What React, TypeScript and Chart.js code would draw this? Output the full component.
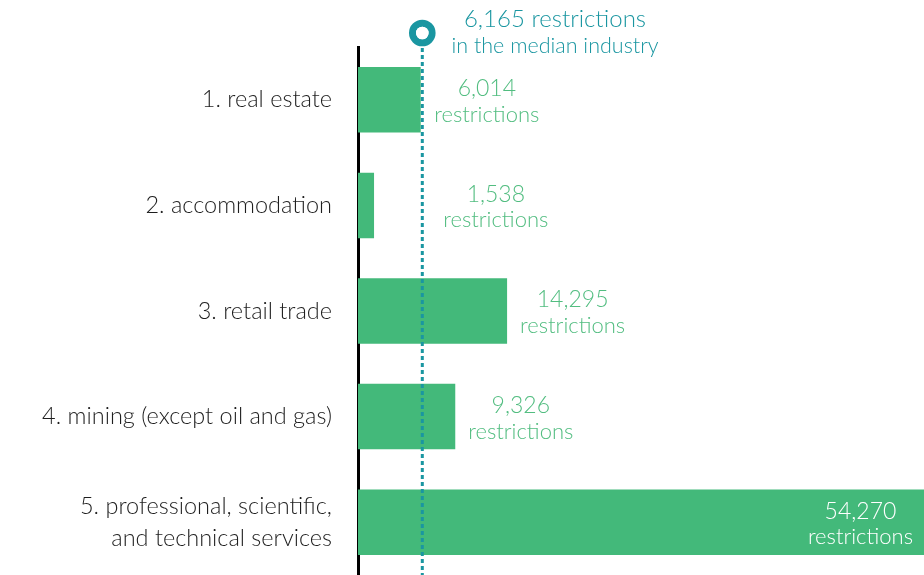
import React, { useEffect, useRef } from "react";
import { Chart, registerables } from "chart.js";

Chart.register(...registerables);

const categories: (string | string[])[] = [
  "1. real estate",
  "2. accommodation",
  "3. retail trade",
  "4. mining (except oil and gas)",
  ["5. professional, scientific,", "and technical services"],
];
const restrictions: number[] = [6014, 1538, 14295, 9326, 54270];
const valueLabels: string[] = ["6,014", "1,538", "14,295", "9,326", "54,270"];
const unitLabel = "restrictions";
const medianValue = 6165;
const medianLines: string[] = ["6,165 restrictions", "in the median industry"];

const GREEN = "#43b97a";
const GREEN_TEXT = "#52bd80";
const TEAL = "#1a96a1";
const FONT = "Lato, 'Open Sans', sans-serif";

export default function App() {
  const ref = useRef<HTMLCanvasElement | null>(null);

  useEffect(() => {
    document.body.style.margin = "0";
    const canvas = ref.current;
    if (!canvas) return;

    const overlay = {
      id: "overlay",
      afterDatasetsDraw(chart: any) {
        const ctx = chart.ctx;
        const xs = chart.scales.x;
        const area = chart.chartArea;
        const mx = xs.getPixelForValue(medianValue);
        const meta = chart.getDatasetMeta(0);

        // value labels
        meta.data.forEach((bar: any, i: number) => {
          const end = bar.x;
          const cy = bar.y;
          ctx.save();
          ctx.textBaseline = "middle";
          ctx.textAlign = "center";
          ctx.font = `300 22px ${FONT}`;
          const w = ctx.measureText(unitLabel).width;
          let center: number;
          if (i === restrictions.length - 1) {
            ctx.fillStyle = "#ffffff";
            center = end - 11 - w / 2;
          } else {
            ctx.fillStyle = GREEN_TEXT;
            let left = Math.max(end + 13, mx + 12);
            if (end < mx - 20) left = mx + 21;
            center = left + w / 2;
          }
          ctx.font = `300 23px ${FONT}`;
          ctx.fillText(valueLabels[i], center, cy - 11);
          ctx.font = `300 22px ${FONT}`;
          ctx.fillText(unitLabel, center, cy + 15);
          ctx.restore();
        });

        // median dotted line
        ctx.save();
        ctx.strokeStyle = TEAL;
        ctx.lineWidth = 3;
        ctx.setLineDash([4, 3]);
        ctx.beginPath();
        ctx.moveTo(mx, 48);
        ctx.lineTo(mx, area.bottom);
        ctx.stroke();
        ctx.setLineDash([]);
        // ring marker
        ctx.lineWidth = 7;
        ctx.beginPath();
        ctx.arc(mx, 33, 9.8, 0, Math.PI * 2);
        ctx.stroke();
        ctx.fillStyle = "#ffffff";
        ctx.beginPath();
        ctx.arc(mx, 33, 6.3, 0, Math.PI * 2);
        ctx.fill();
        // median text
        ctx.fillStyle = TEAL;
        ctx.textAlign = "center";
        ctx.textBaseline = "middle";
        ctx.font = `300 24px ${FONT}`;
        ctx.fillText(medianLines[0], 555, 19);
        ctx.font = `300 21.5px ${FONT}`;
        ctx.fillText(medianLines[1], 555, 46);
        ctx.restore();
      },
    };

    const chart = new Chart(canvas, {
      type: "bar",
      data: {
        labels: categories,
        datasets: [
          {
            data: restrictions,
            backgroundColor: GREEN,
            borderWidth: 0,
            barPercentage: 0.62,
            categoryPercentage: 1,
          },
        ],
      },
      options: {
        indexAxis: "y",
        animation: false,
        responsive: false,
        maintainAspectRatio: false,
        events: [],
        layout: { padding: { top: 47, bottom: 0, left: 0, right: 0 } },
        plugins: {
          legend: { display: false },
          tooltip: { enabled: false },
          title: { display: false },
        },
        scales: {
          x: {
            display: false,
            min: 0,
            max: 54270,
            grid: { display: false },
          },
          y: {
            grid: { display: false, drawTicks: false },
            border: { display: true, color: "#000000", width: 3 },
            ticks: {
              color: "#1e1e1e",
              padding: 26,
              font: { family: FONT, size: 23.5, weight: "300" as any, lineHeight: 1.36 },
            },
            afterFit(scale: any) {
              scale.width = 358;
              scale.paddingTop = 0;
              scale.paddingBottom = 0;
            },
          },
        },
      },
      plugins: [overlay],
    });

    return () => chart.destroy();
  }, []);

  return (
    <div style={{ position: "absolute", left: 0, top: 0, width: 924, height: 575 }}>
      <canvas ref={ref} width={924} height={575} style={{ display: "block" }} />
    </div>
  );
}
